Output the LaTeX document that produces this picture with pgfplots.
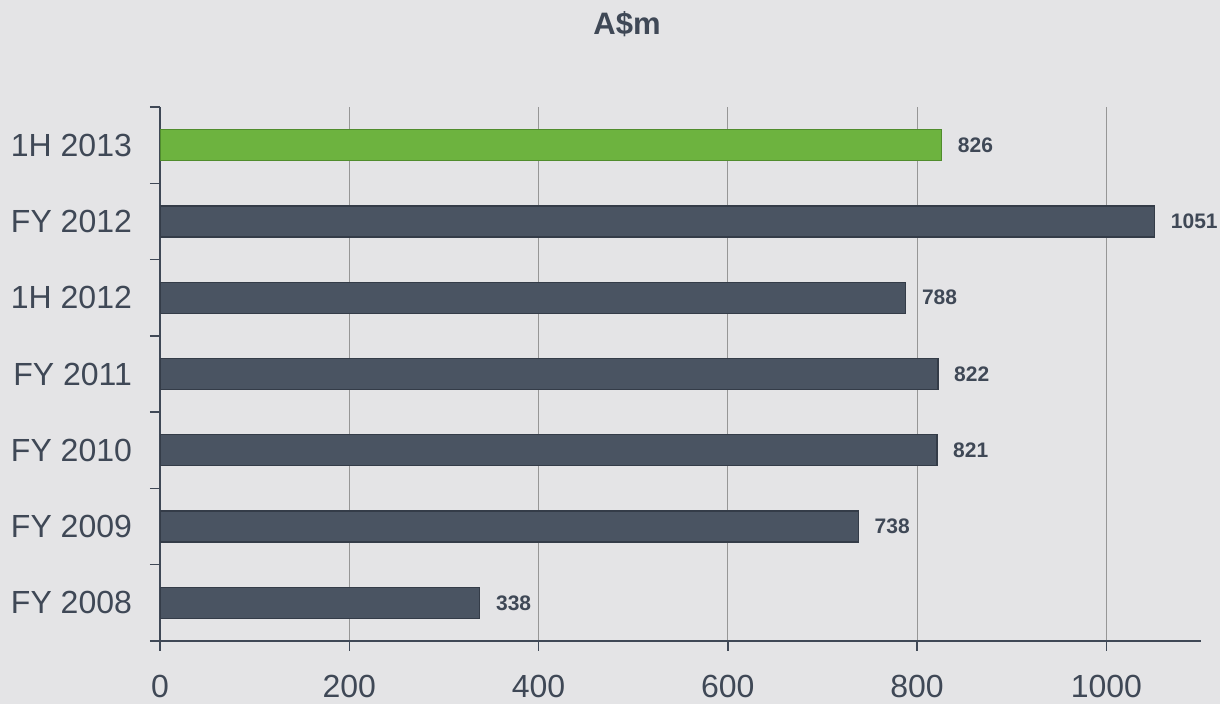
\documentclass[border=0pt]{standalone}
\usepackage{pgfplots}
\pgfplotsset{compat=1.18}
\usepackage{fontspec}
\setmainfont{Liberation Sans}
\definecolor{bg}{RGB}{228,228,230}
\definecolor{barc}{RGB}{74,84,98}
\definecolor{bard}{RGB}{52,60,72}
\definecolor{barG}{RGB}{109,179,63}
\definecolor{barGd}{RGB}{80,140,45}
\definecolor{txt}{RGB}{63,72,86}
\definecolor{gridc}{RGB}{150,150,150}
\begin{document}
\begin{tikzpicture}
\useasboundingbox (0,0) rectangle (610pt,352pt);
\fill[bg] (0,0) rectangle (610pt,352pt);
\node[anchor=base, font=\bfseries\fontsize{15.5}{18}\selectfont, text=txt, inner sep=0pt] at (313.5pt,334.5pt) {A\$m};
\begin{axis}[
  at={(80pt,31.5pt)}, anchor=south west,
  scale only axis, width=520.5pt, height=267pt,
  xbar, bar width=15.5pt,
  xmin=0, xmax=1100, ymin=-0.5, ymax=6.5,
  axis x line*=bottom, axis y line*=left,
  axis line style={txt, line width=0.75pt},
  xtick={0,200,...,1000},
  xmajorgrids, major grid style={gridc, line width=0.6pt},
  tick align=outside, major tick length=5pt,
  tick style={txt, line width=0.75pt},
  ytick={-0.5,0.5,...,6.5}, yticklabels={},
  extra y ticks={0,1,2,3,4,5,6},
  extra y tick labels={FY 2008,FY 2009,FY 2010,FY 2011,1H 2012,FY 2012,1H 2013},
  extra y tick style={major tick length=0pt, grid=none},
  ticklabel style={font=\fontsize{16}{18}\selectfont, text=txt},
  xticklabel style={yshift=-8.5pt},
  yticklabel style={xshift=-10.5pt},
  /pgf/number format/assume math mode=true,
  /pgf/number format/1000 sep={},
  nodes near coords,
  nodes near coords style={font=\bfseries\fontsize{10.5}{12}\selectfont, text=txt, anchor=west, xshift=4.5pt},
]
\addplot[fill=barc, draw=bard, line width=0.6pt, bar shift=0pt] coordinates {(338,0) (738,1) (821,2) (822,3) (788,4) (1051,5)};
\addplot[fill=barG, draw=barGd, line width=0.6pt, bar shift=0pt] coordinates {(826,6)};
\end{axis}
\end{tikzpicture}
\end{document}
